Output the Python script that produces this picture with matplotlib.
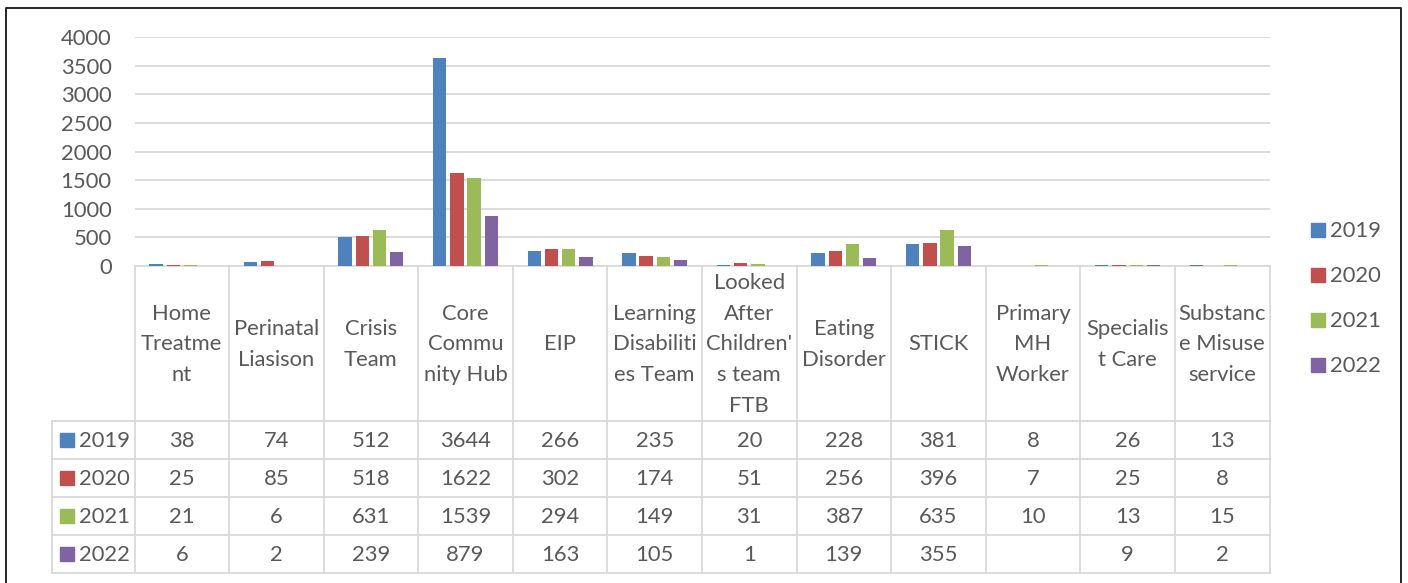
import numpy as np
import matplotlib
matplotlib.use("Agg")
import matplotlib.pyplot as plt
from matplotlib.patches import Rectangle

plt.rcParams['font.family'] = ['Lato', 'DejaVu Sans']

categories = ["Home\nTreatme\nnt", "Perinatal\nLiasison", "Crisis\nTeam", "Core\nCommu\nnity Hub",
              "EIP", "Learning\nDisabiliti\nes Team", "Looked\nAfter\nChildren'\ns team\nFTB",
              "Eating\nDisorder", "STICK", "Primary\nMH\nWorker", "Specialis\nt Care",
              "Substanc\ne Misuse\nservice"]
years = ["2019", "2020", "2021", "2022"]
v2019 = [38, 74, 512, 3644, 266, 235, 20, 228, 381, 8, 26, 13]
v2020 = [25, 85, 518, 1622, 302, 174, 51, 256, 396, 7, 25, 8]
v2021 = [21, 6, 631, 1539, 294, 149, 31, 387, 635, 10, 13, 15]
v2022 = [6, 2, 239, 879, 163, 105, 1, 139, 355, None, 9, 2]
series = [v2019, v2020, v2021, v2022]
colors = ["#4F81BD", "#C0504D", "#9BBB59", "#8064A2"]

W, H = 1408, 583
txt = "#595959"
grid = "#D9D9D9"
fs = 15.8

fig = plt.figure(figsize=(W / 100, H / 100), dpi=100)

# overlay in pixel coords for frame, table and legend
ov = fig.add_axes([0, 0, 1, 1])
ov.set_xlim(0, W)
ov.set_ylim(H, 0)
ov.axis('off')

x0, x1 = 134.5, 1269.5
y_base, y_top = 266, 37.3
cw = (x1 - x0) / len(categories)

ax = fig.add_axes([x0 / W, 1 - y_base / H, (x1 - x0) / W, (y_base - y_top) / H])
ax.set_facecolor('none')
n = len(categories)
x = np.arange(n)
bw, step = 0.141, 0.182
for i, (vals, c) in enumerate(zip(series, colors)):
    v = [np.nan if a is None else a for a in vals]
    ax.bar(x + (i - 1.5) * step, v, width=bw, color=c, zorder=3)
ax.set_xlim(-0.5, n - 0.5)
ax.set_ylim(0, 4000)
ax.set_yticks(range(0, 4001, 500))
ax.tick_params(axis='y', length=0, pad=16.5, labelsize=fs, labelcolor=txt)
ax.set_xticks([])
ax.grid(axis='y', color=grid, lw=1.3, zorder=0)
for s in ax.spines.values():
    s.set_visible(False)

# outer frame
ov.plot([6, 6, 1401, 1401], [H + 5, 8, 8, H + 5], color="#262626", lw=1.4)

# table
rows_y = [266, 421, 459, 497, 535.3, 573.3]
lx = 52
lc = grid
lw = 1.3
ov.plot([x0, x1], [rows_y[0], rows_y[0]], color=lc, lw=lw)
for y in rows_y[1:]:
    ov.plot([lx, x1], [y, y], color=lc, lw=lw)
for k in range(n + 1):
    xx = x0 + k * cw
    ov.plot([xx, xx], [rows_y[0], rows_y[-1]], color=lc, lw=lw)
ov.plot([lx, lx], [rows_y[1], rows_y[-1]], color=lc, lw=lw)

for k, cat in enumerate(categories):
    ov.text(x0 + (k + 0.5) * cw, (rows_y[0] + rows_y[1]) / 2 + 1, cat, ha='center', va='center',
            fontsize=fs, color=txt, linespacing=1.66)
for r, (yr, vals, c) in enumerate(zip(years, series, colors)):
    yc = (rows_y[r + 1] + rows_y[r + 2]) / 2
    ov.add_patch(Rectangle((60, yc - 7), 14, 14, color=c))
    ov.text(79, yc + 1, yr, ha='left', va='center', fontsize=fs, color=txt)
    for k, v in enumerate(vals):
        if v is not None:
            ov.text(x0 + (k + 0.5) * cw, yc + 1, str(v), ha='center', va='center', fontsize=fs, color=txt)

# legend
for r, (yr, c) in enumerate(zip(years, colors)):
    yc = 230 + r * 45
    ov.add_patch(Rectangle((1311, yc - 7), 14, 14, color=c))
    ov.text(1330, yc + 1, yr, ha='left', va='center', fontsize=fs, color=txt)

fig.savefig("out.png", dpi=100)
